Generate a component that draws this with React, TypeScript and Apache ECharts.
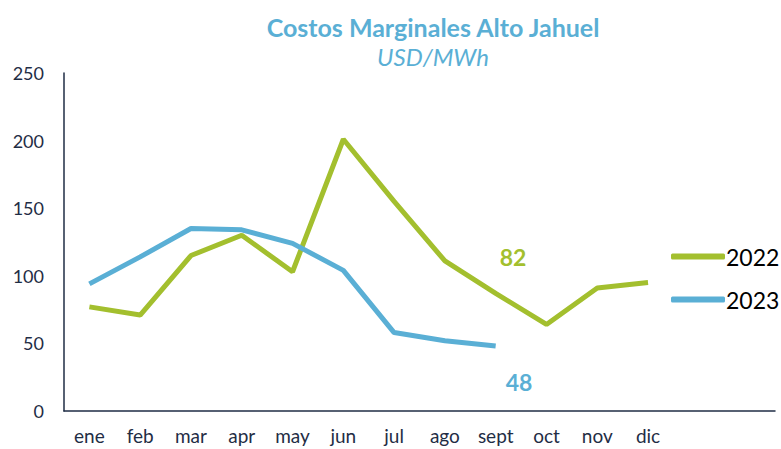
import React, { useEffect, useRef } from "react";
import * as echarts from "echarts";

const months = ["ene", "feb", "mar", "apr", "may", "jun", "jul", "ago", "sept", "oct", "nov", "dic", "", ""];
const values2022 = [77, 71, 115, 130, 103, 201, 155, 111, 87, 64, 91, 95];
const values2023 = [94, 114, 135, 134, 124, 104, 58, 52, 48];
const yTicks = { min: 0, max: 250, interval: 50 };
const note2022 = "82";
const note2023 = "48";

const GREEN = "#A3BF2E";
const BLUE = "#5AAFD5";
const NAVY = "#1F2D45";
const FONT = "Lato, 'Noto Sans', sans-serif";

export default function App() {
  const ref = useRef<HTMLDivElement>(null);
  useEffect(() => {
    const chart = echarts.init(ref.current!, null, { renderer: "svg" });
    chart.setOption({
      animation: false,
      textStyle: { fontFamily: FONT },
      title: {
        text: "Costos Marginales Alto Jahuel",
        subtext: "USD/MWh",
        left: 428,
        textAlign: "center",
        top: 9,
        itemGap: 5,
        textStyle: { color: BLUE, fontSize: 25, fontWeight: "bold", fontFamily: FONT },
        subtextStyle: { color: BLUE, fontSize: 24, fontStyle: "italic", fontFamily: FONT },
      },
      grid: { left: 64, right: 6, top: 73, bottom: 38 },
      legend: {
        orient: "vertical",
        left: 666,
        top: 240,
        itemWidth: 54,
        itemHeight: 6,
        itemGap: 20,
        icon: "roundRect",
        data: ["2022", "2023"],
        textStyle: { color: "#000", fontSize: 23, fontFamily: FONT, padding: [0, 0, 0, -4] },
      },
      xAxis: {
        type: "category",
        data: months,
        boundaryGap: true,
        axisLine: { lineStyle: { color: NAVY, width: 1.5 } },
        axisTick: { show: false },
        axisLabel: { color: NAVY, fontSize: 19, margin: 15, interval: 0, fontFamily: FONT },
      },
      yAxis: {
        type: "value",
        min: yTicks.min,
        max: yTicks.max,
        interval: yTicks.interval,
        axisLine: { show: true, lineStyle: { color: NAVY, width: 1.5 } },
        axisTick: { show: false },
        splitLine: { show: false },
        axisLabel: { color: NAVY, fontSize: 18, margin: 20, fontFamily: FONT },
      },
      series: [
        {
          name: "2022",
          type: "line",
          data: values2022,
          symbol: "none",
          lineStyle: { color: GREEN, width: 5 },
          itemStyle: { color: GREEN },
        },
        {
          name: "2023",
          type: "line",
          data: values2023,
          symbol: "none",
          lineStyle: { color: BLUE, width: 5 },
          itemStyle: { color: BLUE },
        },
      ],
      graphic: [
        {
          type: "text",
          x: 513,
          y: 257,
          style: { text: note2022, fill: GREEN, font: `bold 23px ${FONT}`, textAlign: "center", textVerticalAlign: "middle" },
        },
        {
          type: "text",
          x: 519,
          y: 382,
          style: { text: note2023, fill: BLUE, font: `bold 23px ${FONT}`, textAlign: "center", textVerticalAlign: "middle" },
        },
      ],
    });
    return () => chart.dispose();
  }, []);
  return <div ref={ref} style={{ width: 781, height: 449, position: "absolute", left: 0, top: 0 }} />;
}
